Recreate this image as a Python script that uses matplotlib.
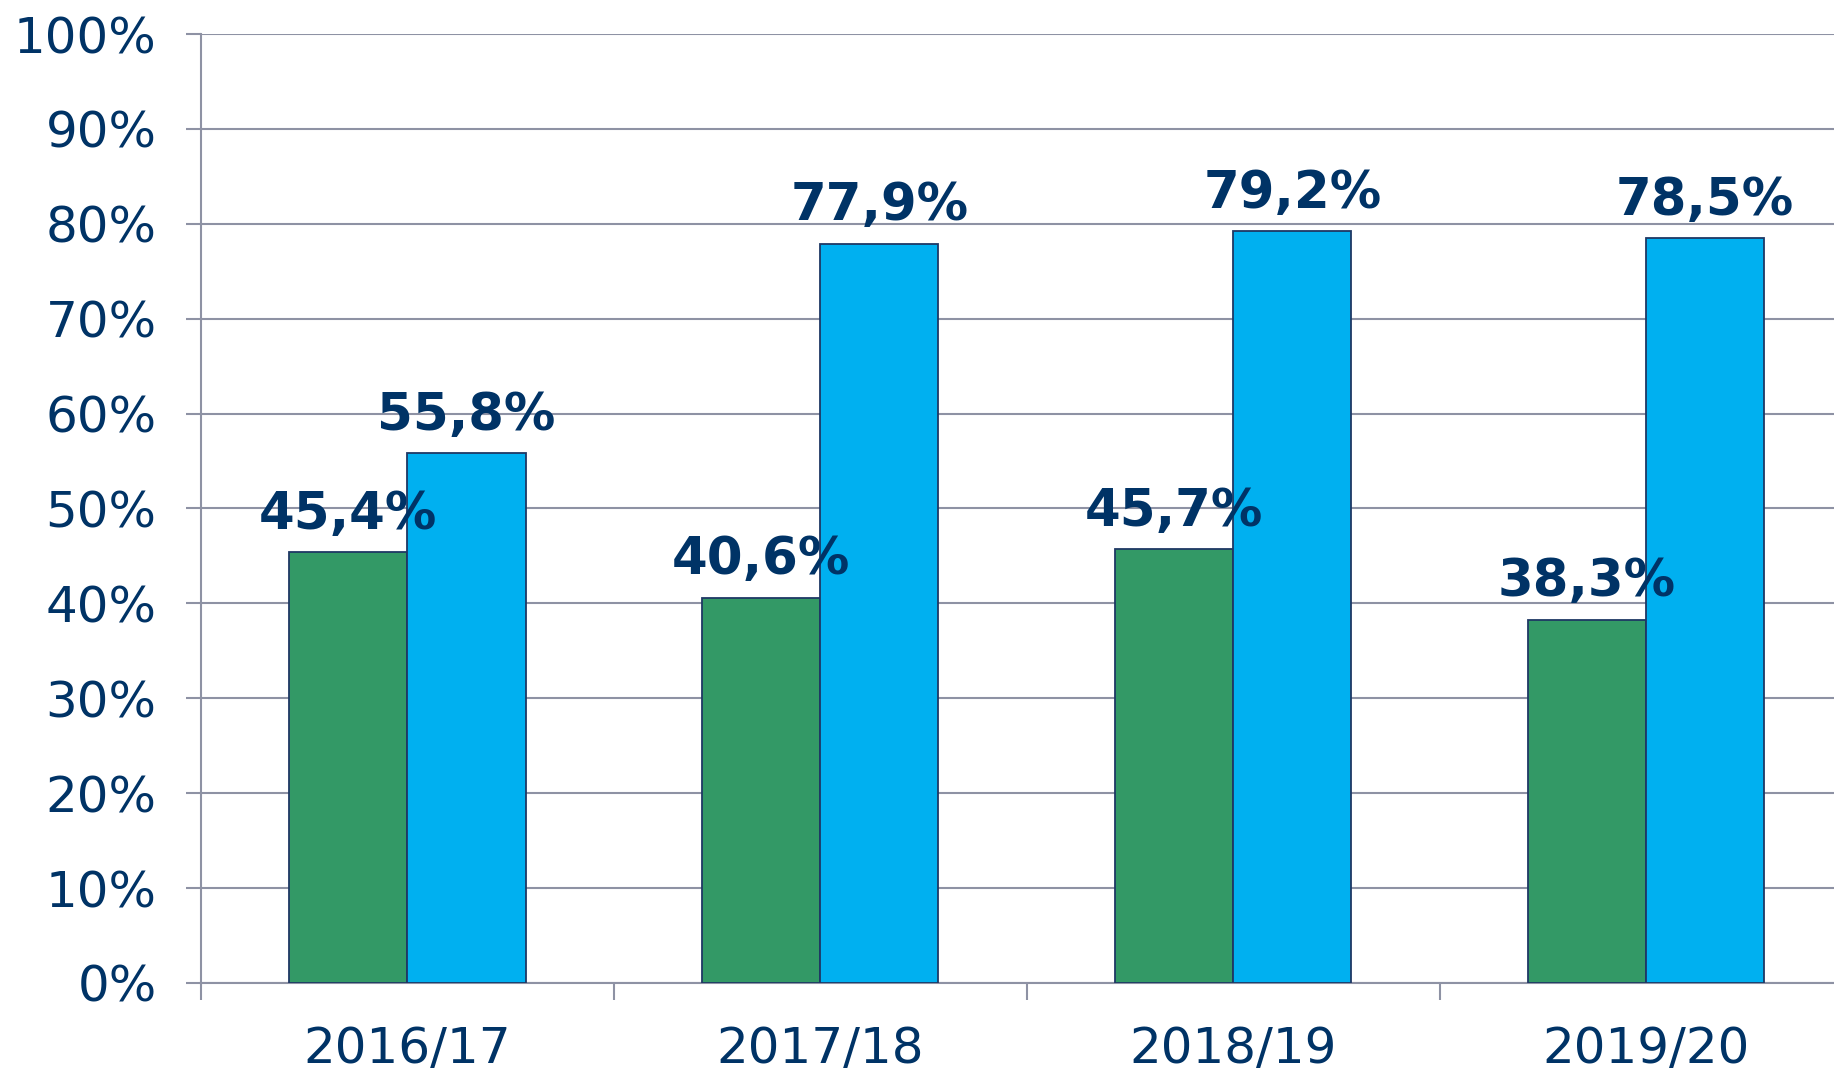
#!/usr/bin/env python3

import matplotlib
matplotlib.use("Agg")
import matplotlib.pyplot as plt
import numpy as np

# school years and the two shares (in %)
years = ["2016/17", "2017/18", "2018/19", "2019/20"]
green_vals = [45.4, 40.6, 45.7, 38.3]
blue_vals = [55.8, 77.9, 79.2, 78.5]

navy = "#003366"
grid_col = "#8E92A4"


def fmt(v):
  return f"{v:.1f}%".replace(".", ",")


def main():
  fig = plt.figure(figsize=(18.34, 10.73), dpi=100)
  ax = fig.add_axes([0.1096, 0.0839, 0.8904, 0.8844])

  x = np.arange(len(years))
  w = 0.286

  bg = ax.bar(x - w / 2, green_vals, w, color="#339966", edgecolor="#1F3864", linewidth=1.3, zorder=3)
  bb = ax.bar(x + w / 2, blue_vals, w, color="#00B0F0", edgecolor="#1F3864", linewidth=1.3, zorder=3)

  for bars, vals in [(bg, green_vals), (bb, blue_vals)]:
    for b, v in zip(bars, vals):
      ax.annotate(fmt(v), (b.get_x() + b.get_width() / 2, v), xytext=(0, 9),
                  textcoords="offset points", ha="center", va="bottom",
                  fontsize=37, fontweight="bold", color=navy, zorder=4)

  ax.set_yticks(range(0, 101, 10))
  ax.set_yticklabels([f"{t}%" for t in range(0, 101, 10)])

  ax.set_xticks(x)
  ax.set_xticklabels(years)
  ax.set_xticks(np.arange(-0.5, 3.5, 1), minor=True)

  # limits after the ticks, so the ticks do not widen the view
  ax.set_ylim(0, 100)
  ax.set_xlim(-0.5, 3.455)

  ax.yaxis.grid(True, color=grid_col, linewidth=1.5, zorder=0)
  ax.set_axisbelow(True)

  for s in ["top", "right"]:
    ax.spines[s].set_visible(False)
  for s in ["left", "bottom"]:
    ax.spines[s].set_color(grid_col)
    ax.spines[s].set_linewidth(1.5)

  ax.tick_params(axis="y", length=11, width=1.5, color=grid_col, pad=21,
                 labelsize=36, labelcolor=navy)
  ax.tick_params(axis="x", which="major", length=0, pad=30, labelsize=36, labelcolor=navy)
  ax.tick_params(axis="x", which="minor", length=12, width=1.5, color=grid_col)

  fig.savefig("out.png", dpi=100)


if __name__ == "__main__":
  main()
